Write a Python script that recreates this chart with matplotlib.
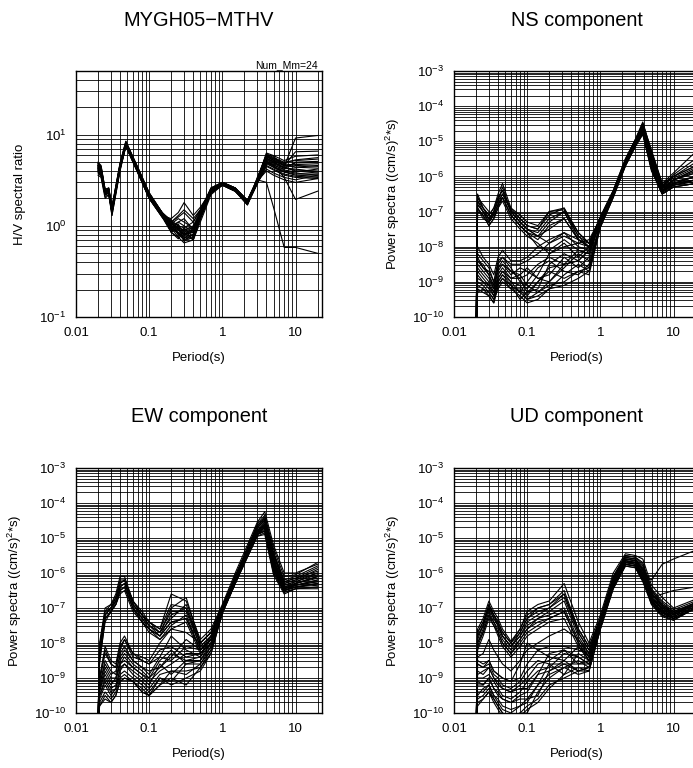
import numpy as np
import matplotlib
matplotlib.use("Agg")
import matplotlib.pyplot as plt
from matplotlib.ticker import LogLocator, NullFormatter

plt.rcParams['font.family'] = ['Liberation Sans', 'DejaVu Sans']
plt.rcParams['mathtext.fontset'] = 'custom'
plt.rcParams['mathtext.rm'] = 'Liberation Sans'
plt.rcParams['mathtext.it'] = 'Liberation Sans'
plt.rcParams['mathtext.default'] = 'rm'

STATION = "MYGH05\u2212MTHV"
NUM_MM = 24

# ---- H/V spectral ratio ----
HV_PERIOD = [0.02, 0.022, 0.025, 0.028, 0.031, 0.04, 0.048, 0.07, 0.1, 0.15, 0.2, 0.25,
             0.3, 0.4, 0.5, 0.7, 1.0, 1.5, 2.2, 3.0, 4.0, 5.0, 7.0, 10.0, 20.0]
HV_RATIO = [
    [4.8, 4.4, 2.4, 2.5, 1.4, 4.3, 8.3, 4.2, 2.2, 1.3, 0.95, 0.85, 0.75, 0.8, 1.3, 2.4, 2.9, 2.6, 1.8, 3.2, 6.2, 5.6, 5.0, 5.2, 5.4],
    [4.2, 3.8, 2.2, 2.3, 1.3, 4.0, 7.6, 3.8, 2.0, 1.25, 0.85, 0.95, 0.7, 0.8, 1.2, 2.3, 2.8, 2.5, 1.7, 3.0, 5.5, 5.0, 4.4, 4.0, 3.8],
    [3.6, 3.4, 2.0, 2.2, 1.5, 4.4, 7.9, 4.0, 2.1, 1.4, 1.1, 1.3, 1.5, 1.2, 1.5, 2.5, 2.9, 2.5, 1.8, 3.3, 5.8, 5.2, 4.6, 6.5, 6.6],
    [5.0, 4.6, 2.5, 2.6, 1.6, 4.8, 8.4, 4.4, 2.3, 1.4, 1.0, 0.9, 0.8, 0.9, 1.4, 2.6, 3.0, 2.6, 1.9, 3.1, 4.0, 3.6, 3.2, 3.0, 3.3],
    [4.0, 3.7, 2.3, 2.4, 1.4, 4.2, 7.5, 3.9, 2.0, 1.3, 1.2, 1.4, 1.8, 1.3, 1.6, 2.4, 2.8, 2.4, 1.7, 3.4, 6.0, 5.8, 4.5, 9.2, 9.8],
    [4.5, 4.1, 2.4, 2.5, 1.5, 4.5, 8.0, 4.1, 2.2, 1.3, 0.85, 0.75, 0.65, 0.7, 1.1, 2.2, 2.8, 2.5, 1.8, 3.2, 3.0, 1.6, 0.58, 0.58, 0.5],
    [4.3, 3.9, 2.3, 2.4, 1.5, 4.6, 7.7, 4.0, 2.1, 1.35, 1.05, 0.95, 0.9, 1.0, 1.45, 2.5, 2.9, 2.5, 1.8, 3.0, 5.2, 4.6, 3.4, 1.95, 2.4],
    [4.6, 4.2, 2.3, 2.5, 1.4, 4.4, 8.1, 4.3, 2.2, 1.3, 1.15, 0.8, 0.95, 0.75, 1.3, 2.4, 3.0, 2.6, 1.9, 3.3, 5.9, 5.4, 4.8, 4.6, 4.5],
    [3.8, 3.5, 2.1, 2.2, 1.3, 4.1, 7.4, 3.8, 2.0, 1.25, 0.95, 1.1, 1.2, 0.9, 1.3, 2.3, 2.8, 2.4, 1.7, 2.9, 4.8, 4.4, 3.9, 3.6, 3.5],
    [4.4, 4.0, 2.4, 2.5, 1.5, 4.7, 7.9, 4.1, 2.2, 1.35, 0.95, 1.05, 0.78, 0.95, 1.35, 2.5, 2.9, 2.5, 1.8, 3.1, 5.6, 5.0, 4.3, 4.1, 4.0],
    [4.9, 4.5, 2.5, 2.6, 1.6, 4.9, 8.5, 4.3, 2.3, 1.4, 1.1, 1.0, 0.95, 1.1, 1.5, 2.6, 3.0, 2.6, 1.9, 3.2, 6.3, 5.9, 5.2, 5.8, 6.0],
    [4.1, 3.8, 2.2, 2.3, 1.4, 4.3, 7.6, 3.9, 2.1, 1.3, 0.85, 0.72, 0.85, 0.7, 1.2, 2.3, 2.8, 2.4, 1.75, 2.9, 4.5, 4.1, 3.6, 3.4, 3.3],
    [4.7, 4.3, 2.4, 2.5, 1.5, 4.6, 8.2, 4.2, 2.2, 1.35, 1.05, 1.2, 1.1, 0.95, 1.4, 2.5, 2.9, 2.5, 1.8, 3.1, 5.4, 4.9, 4.4, 4.9, 5.0],
    [4.0, 3.6, 2.2, 2.3, 1.4, 4.3, 7.7, 4.0, 2.1, 1.3, 1.0, 0.8, 0.72, 0.9, 1.25, 2.4, 2.8, 2.5, 1.8, 3.0, 5.0, 4.5, 4.0, 3.8, 3.6],
    [4.5, 4.2, 2.4, 2.5, 1.5, 4.5, 8.0, 4.1, 2.2, 1.4, 1.15, 1.0, 0.85, 0.9, 1.4, 2.5, 2.9, 2.5, 1.8, 3.1, 5.7, 5.3, 4.7, 4.4, 4.6],
    [4.2, 3.9, 2.3, 2.4, 1.45, 4.4, 7.8, 4.0, 2.1, 1.3, 0.9, 0.85, 0.68, 0.75, 1.2, 2.4, 2.9, 2.5, 1.8, 3.0, 4.2, 3.8, 3.4, 3.2, 3.6],
    [4.6, 4.2, 2.4, 2.5, 1.5, 4.6, 8.1, 4.2, 2.2, 1.35, 1.0, 0.9, 0.82, 0.85, 1.35, 2.5, 3.0, 2.6, 1.9, 3.2, 6.0, 5.5, 4.9, 5.3, 5.6],
    [4.3, 3.9, 2.3, 2.4, 1.5, 4.5, 7.8, 4.0, 2.1, 1.35, 1.1, 1.25, 1.4, 1.1, 1.5, 2.5, 2.9, 2.5, 1.8, 3.0, 5.1, 4.7, 4.1, 3.9, 4.2],
    [3.9, 3.6, 2.2, 2.3, 1.4, 4.2, 7.6, 3.9, 2.0, 1.25, 0.95, 0.75, 0.9, 0.7, 1.25, 2.3, 2.8, 2.4, 1.75, 2.9, 4.6, 4.2, 3.7, 3.5, 3.4],
    [4.8, 4.4, 2.5, 2.6, 1.6, 4.8, 8.3, 4.3, 2.3, 1.4, 1.05, 0.95, 0.9, 0.95, 1.4, 2.6, 3.0, 2.6, 1.9, 3.2, 5.9, 5.2, 4.6, 4.7, 4.8],
    [4.4, 4.0, 2.3, 2.4, 1.5, 4.5, 7.9, 4.1, 2.2, 1.3, 0.9, 1.0, 0.68, 0.82, 1.2, 2.4, 2.9, 2.5, 1.8, 3.1, 5.3, 4.8, 4.3, 4.2, 3.9],
    [4.1, 3.7, 2.2, 2.3, 1.4, 4.3, 7.5, 3.9, 2.0, 1.3, 1.0, 1.1, 1.0, 0.85, 1.3, 2.4, 2.8, 2.4, 1.75, 3.0, 5.0, 4.6, 4.2, 5.0, 5.1],
    [4.6, 4.2, 2.4, 2.5, 1.5, 4.6, 8.2, 4.2, 2.2, 1.4, 1.1, 0.92, 0.8, 0.85, 1.35, 2.5, 2.9, 2.5, 1.85, 3.1, 5.5, 5.1, 4.6, 4.4, 4.3],
    [4.3, 3.9, 2.3, 2.4, 1.45, 4.4, 7.8, 4.0, 2.1, 1.3, 1.0, 0.82, 0.75, 0.72, 1.25, 2.4, 2.9, 2.5, 1.8, 3.0, 4.9, 4.4, 3.9, 3.7, 3.7],
]

# ---- power spectra, stored as log10 of (cm/s)^2*s ----
SPEC_PERIOD = [0.0199, 0.021, 0.025, 0.03, 0.035, 0.04, 0.046, 0.06, 0.08, 0.1, 0.14, 0.2,
               0.32, 0.5, 0.7, 1.0, 1.5, 2.2, 3.0, 3.8, 5.0, 7.0, 10.0, 20.0]

NS_LOG = [
    [-11, -6.5, -6.9, -7.1, -6.9, -6.5, -6.2, -6.9, -7.2, -7.4, -7.5, -7.1, -6.9, -7.7, -7.9, -7.15, -6.4, -5.5, -4.95, -4.45, -5.3, -6.2, -5.9, -5.3],
    [-11, -6.7, -7.0, -7.3, -7.0, -6.6, -6.4, -7.0, -7.3, -7.5, -7.7, -7.3, -7.0, -7.8, -8.0, -7.2, -6.45, -5.6, -5.0, -4.55, -5.5, -6.3, -6.0, -5.6],
    [-11, -6.6, -6.8, -7.0, -7.1, -6.8, -6.5, -6.9, -7.1, -7.3, -7.4, -7.0, -6.95, -7.6, -7.9, -7.2, -6.5, -5.6, -5.05, -4.6, -5.4, -6.3, -6.2, -6.0],
    [-11, -6.9, -7.1, -7.4, -7.2, -6.9, -6.6, -7.1, -7.4, -7.6, -8.0, -8.1, -7.8, -8.1, -8.2, -7.25, -6.5, -5.65, -5.1, -4.7, -5.6, -6.4, -6.1, -5.8],
    [-11, -6.8, -7.0, -7.2, -7.0, -6.7, -6.3, -7.0, -7.3, -7.5, -7.6, -7.2, -7.0, -7.7, -8.0, -7.2, -6.45, -5.55, -5.0, -4.5, -5.25, -6.2, -6.0, -5.7],
    [-11, -7.0, -7.1, -7.4, -7.2, -6.9, -6.7, -7.2, -7.5, -7.7, -7.9, -8.2, -8.0, -7.9, -8.0, -7.3, -6.55, -5.7, -5.15, -4.8, -5.8, -6.5, -6.3, -6.2],
    [-11, -6.6, -6.9, -7.1, -6.9, -6.6, -6.4, -6.95, -7.2, -7.4, -7.5, -7.0, -6.9, -7.6, -7.9, -7.15, -6.4, -5.5, -4.95, -4.5, -5.4, -6.35, -6.1, -5.9],
    [-11, -6.9, -7.2, -7.3, -7.1, -6.8, -6.6, -7.1, -7.4, -7.6, -7.8, -7.4, -7.2, -7.8, -8.0, -7.25, -6.5, -5.6, -5.1, -4.65, -5.5, -6.4, -6.2, -6.1],
    [-11, -6.7, -6.9, -7.2, -7.0, -6.7, -6.5, -7.0, -7.3, -7.5, -7.7, -7.5, -7.2, -7.8, -8.0, -7.2, -6.45, -5.55, -5.0, -4.6, -5.45, -6.3, -5.95, -5.5],
    [-11, -6.8, -7.0, -7.3, -7.1, -6.8, -6.6, -7.1, -7.4, -7.6, -7.7, -7.9, -7.6, -8.0, -8.1, -7.3, -6.5, -5.65, -5.1, -4.75, -5.7, -6.45, -6.2, -6.0],
    [-11, -8.2, -8.4, -8.6, -9.0, -8.5, -8.3, -8.6, -9.0, -9.2, -8.8, -8.2, -7.9, -8.3, -8.0, -7.2, -6.45, -5.55, -5.0, -4.55, -5.4, -6.3, -6.1, -5.8],
    [-11, -8.5, -8.7, -8.9, -9.2, -8.7, -8.5, -8.8, -8.6, -8.7, -8.9, -9.0, -8.5, -8.1, -8.2, -7.3, -6.5, -5.6, -5.05, -4.65, -5.6, -6.4, -6.2, -6.1],
    [-11, -8.8, -9.0, -9.1, -9.4, -8.9, -8.7, -9.0, -9.3, -9.0, -8.6, -8.4, -8.7, -8.8, -8.5, -7.4, -6.55, -5.65, -5.1, -4.7, -5.7, -6.45, -6.25, -6.1],
    [-11, -9.2, -9.3, -9.4, -9.6, -9.1, -8.9, -9.2, -9.4, -9.6, -9.5, -9.2, -8.8, -8.5, -8.7, -7.45, -6.6, -5.7, -5.15, -4.8, -5.85, -6.5, -6.3, -6.2],
    [-11, -8.4, -8.5, -8.8, -9.1, -8.6, -8.4, -8.7, -8.8, -8.6, -8.9, -8.8, -8.3, -8.6, -8.3, -7.25, -6.45, -5.6, -5.0, -4.6, -5.5, -6.35, -6.1, -5.9],
    [-11, -9.0, -9.1, -9.3, -9.5, -9.0, -8.8, -9.1, -9.5, -9.3, -9.0, -8.7, -8.9, -8.7, -8.6, -7.4, -6.55, -5.65, -5.1, -4.7, -5.75, -6.45, -6.2, -6.0],
    [-11, -8.6, -8.8, -9.0, -9.3, -8.8, -8.6, -8.9, -8.9, -9.3, -9.2, -8.5, -8.2, -8.4, -8.1, -7.3, -6.5, -5.6, -5.05, -4.6, -5.5, -6.4, -6.15, -6.0],
    [-11, -9.3, -9.2, -9.3, -9.5, -9.2, -9.0, -9.2, -9.2, -9.5, -9.3, -9.1, -9.0, -8.7, -8.8, -7.45, -6.6, -5.7, -5.15, -4.75, -5.8, -6.5, -6.3, -6.2],
    [-11, -8.3, -8.6, -8.7, -9.0, -8.4, -8.3, -8.5, -8.5, -8.4, -8.2, -7.9, -7.7, -7.9, -7.8, -7.2, -6.45, -5.55, -5.0, -4.55, -5.35, -6.25, -6.0, -5.7],
    [-11, -8.9, -9.0, -9.2, -9.4, -9.0, -8.8, -9.0, -9.1, -9.4, -9.0, -8.6, -8.5, -8.4, -8.6, -7.35, -6.5, -5.6, -5.05, -4.65, -5.6, -6.4, -6.2, -6.1],
    [-11, -8.7, -8.9, -9.1, -9.3, -8.9, -8.7, -8.9, -8.8, -9.1, -9.3, -9.0, -8.6, -8.2, -8.4, -7.35, -6.5, -5.6, -5.05, -4.7, -5.65, -6.4, -6.25, -6.15],
    [-11, -8.4, -8.6, -8.8, -9.2, -8.6, -8.5, -8.7, -8.9, -8.8, -8.5, -8.3, -8.5, -8.4, -8.1, -7.25, -6.5, -5.6, -5.0, -4.6, -5.5, -6.35, -6.1, -5.85],
    [-11, -9.1, -9.2, -9.4, -9.6, -9.1, -8.9, -9.1, -9.3, -9.5, -9.4, -9.2, -9.1, -8.9, -8.7, -7.4, -6.55, -5.65, -5.1, -4.75, -5.8, -6.5, -6.25, -6.1],
    [-11, -8.0, -8.3, -8.5, -8.8, -8.3, -8.1, -8.4, -8.4, -8.3, -8.0, -7.8, -7.6, -7.8, -7.9, -7.2, -6.45, -5.55, -5.0, -4.5, -5.3, -6.25, -6.05, -5.75],
]

EW_LOG = [
    [-10.5, -8.0, -7.0, -6.9, -6.6, -6.1, -6.1, -6.8, -7.1, -7.4, -7.6, -6.6, -6.8, -7.9, -7.6, -6.9, -6.0, -5.2, -4.55, -4.25, -5.2, -6.0, -6.0, -5.75],
    [-10.5, -8.2, -7.2, -7.0, -6.7, -6.3, -6.2, -6.9, -7.2, -7.5, -7.7, -7.0, -6.7, -8.0, -7.7, -6.95, -6.1, -5.3, -4.65, -4.4, -5.4, -6.2, -6.1, -5.8],
    [-10.5, -8.1, -7.1, -7.0, -6.8, -6.4, -6.3, -6.9, -7.3, -7.5, -7.8, -7.2, -7.0, -8.1, -7.8, -7.0, -6.15, -5.35, -4.7, -4.5, -5.5, -6.3, -6.2, -6.0],
    [-10.5, -8.4, -7.3, -7.1, -6.9, -6.5, -6.4, -7.0, -7.4, -7.6, -7.9, -7.5, -7.2, -8.2, -7.9, -7.05, -6.2, -5.4, -4.8, -4.6, -5.7, -6.4, -6.3, -6.1],
    [-10.5, -8.3, -7.2, -7.0, -6.7, -6.2, -6.2, -6.8, -7.2, -7.4, -7.7, -7.3, -6.9, -8.0, -7.7, -6.95, -6.1, -5.3, -4.6, -4.35, -5.3, -6.1, -6.05, -5.7],
    [-10.5, -8.5, -7.4, -7.1, -6.9, -6.6, -6.5, -7.1, -7.4, -7.7, -7.9, -7.6, -7.4, -8.3, -8.0, -7.1, -6.25, -5.5, -4.9, -4.8, -5.9, -6.5, -6.4, -6.3],
    [-10.5, -8.1, -7.1, -6.9, -6.7, -6.3, -6.2, -6.8, -7.2, -7.4, -7.6, -6.9, -7.0, -8.0, -7.7, -7.0, -6.1, -5.3, -4.65, -4.45, -5.45, -6.25, -6.15, -5.95],
    [-10.5, -8.6, -7.3, -7.1, -6.8, -6.5, -6.4, -7.0, -7.3, -7.6, -7.8, -7.4, -7.3, -8.2, -7.9, -7.05, -6.2, -5.45, -4.85, -4.7, -5.8, -6.45, -6.35, -6.25],
    [-10.5, -8.2, -7.2, -7.0, -6.8, -6.4, -6.3, -6.9, -7.2, -7.5, -7.7, -7.1, -7.1, -8.1, -7.8, -7.0, -6.15, -5.35, -4.7, -4.5, -5.6, -6.35, -6.25, -6.0],
    [-10.5, -8.3, -7.3, -7.1, -6.9, -6.5, -6.4, -7.0, -7.4, -7.6, -7.8, -7.4, -7.3, -8.2, -7.9, -7.05, -6.2, -5.45, -4.8, -4.65, -5.75, -6.45, -6.3, -6.15],
    [-10.5, -9.0, -8.1, -8.5, -8.6, -8.0, -7.8, -8.3, -8.4, -8.5, -8.0, -7.6, -7.7, -8.0, -7.7, -7.0, -6.1, -5.3, -4.7, -4.5, -5.5, -6.3, -6.2, -5.9],
    [-10.5, -9.2, -8.5, -8.8, -8.9, -8.3, -8.1, -8.5, -8.7, -8.8, -8.7, -8.4, -7.9, -8.2, -7.8, -7.05, -6.2, -5.4, -4.8, -4.6, -5.65, -6.4, -6.3, -6.1],
    [-10.5, -9.5, -9.0, -9.3, -9.2, -8.8, -8.6, -8.8, -9.0, -9.2, -8.6, -8.9, -8.5, -8.4, -8.0, -7.1, -6.25, -5.5, -4.9, -4.8, -5.9, -6.5, -6.4, -6.3],
    [-10.5, -9.8, -9.5, -9.7, -9.5, -9.1, -9.0, -9.1, -9.4, -9.5, -9.2, -8.8, -8.9, -8.6, -8.2, -7.15, -6.3, -5.55, -4.95, -4.85, -6.0, -6.55, -6.45, -6.4],
    [-10.5, -9.1, -8.3, -8.6, -8.7, -8.1, -7.9, -8.4, -8.5, -8.6, -8.2, -8.1, -8.4, -8.3, -7.9, -7.0, -6.15, -5.35, -4.75, -4.55, -5.6, -6.35, -6.25, -6.05],
    [-10.5, -9.6, -9.2, -9.5, -9.3, -8.9, -8.8, -9.0, -9.2, -9.4, -9.0, -9.1, -8.6, -8.5, -8.1, -7.1, -6.3, -5.5, -4.9, -4.75, -5.85, -6.5, -6.4, -6.35],
    [-10.5, -9.3, -8.7, -9.0, -9.0, -8.5, -8.3, -8.6, -8.8, -9.0, -8.5, -8.2, -8.6, -8.6, -8.1, -7.05, -6.2, -5.45, -4.85, -4.65, -5.7, -6.45, -6.35, -6.2],
    [-10.5, -9.7, -9.4, -9.6, -9.4, -9.0, -8.9, -9.1, -9.3, -9.5, -9.0, -9.2, -9.0, -8.8, -8.3, -7.15, -6.3, -5.5, -4.9, -4.8, -5.95, -6.55, -6.45, -6.45],
    [-10.5, -9.0, -8.2, -8.6, -8.7, -8.2, -7.9, -8.3, -8.5, -8.6, -8.4, -7.8, -8.2, -8.4, -7.8, -7.0, -6.1, -5.3, -4.65, -4.45, -5.45, -6.25, -6.15, -5.85],
    [-10.5, -9.4, -8.8, -9.1, -9.1, -8.6, -8.5, -8.7, -8.9, -9.1, -8.8, -8.6, -8.3, -8.3, -8.0, -7.1, -6.25, -5.45, -4.85, -4.7, -5.8, -6.5, -6.35, -6.25],
    [-10.5, -9.5, -9.1, -9.4, -9.3, -8.7, -8.6, -8.9, -9.1, -9.3, -8.9, -8.8, -8.8, -8.7, -8.2, -7.1, -6.25, -5.5, -4.9, -4.7, -5.85, -6.5, -6.4, -6.3],
    [-10.5, -9.2, -8.6, -8.9, -8.8, -8.4, -8.2, -8.5, -8.7, -8.9, -8.4, -8.5, -8.1, -8.2, -7.9, -7.05, -6.2, -5.4, -4.8, -4.6, -5.65, -6.4, -6.3, -6.1],
    [-10.5, -9.8, -9.6, -9.7, -9.5, -9.1, -9.0, -9.1, -9.4, -9.5, -9.2, -9.0, -9.2, -8.7, -8.3, -7.15, -6.3, -5.55, -4.95, -4.9, -6.05, -6.6, -6.45, -6.4],
    [-10.5, -9.3, -8.9, -9.2, -9.0, -8.6, -8.4, -8.7, -8.9, -9.0, -8.7, -8.3, -8.5, -8.5, -8.0, -7.05, -6.2, -5.45, -4.85, -4.7, -5.75, -6.45, -6.35, -6.2],
]

UD_LOG = [
    [-11, -7.6, -7.3, -6.8, -7.1, -7.3, -7.6, -7.95, -7.6, -7.1, -6.9, -6.8, -6.3, -7.4, -8.0, -7.2, -6.0, -5.45, -5.5, -5.6, -6.35, -6.7, -7.0, -6.75],
    [-11, -7.8, -7.5, -6.9, -7.2, -7.4, -7.7, -8.0, -7.7, -7.3, -7.0, -6.9, -6.5, -7.6, -8.1, -7.3, -6.1, -5.5, -5.55, -5.7, -6.45, -6.8, -7.05, -6.8],
    [-11, -7.7, -7.4, -7.0, -7.3, -7.5, -7.8, -8.1, -7.8, -7.4, -7.2, -7.0, -6.6, -7.7, -8.2, -7.3, -6.15, -5.55, -5.6, -5.8, -6.5, -6.85, -7.1, -6.85],
    [-11, -8.0, -7.6, -7.1, -7.4, -7.6, -7.9, -8.2, -7.9, -7.6, -7.3, -7.1, -6.8, -7.8, -8.3, -7.35, -6.2, -5.6, -5.65, -5.9, -6.6, -6.9, -7.15, -6.9],
    [-11, -7.9, -7.5, -7.0, -7.3, -7.5, -7.8, -8.1, -7.8, -7.5, -7.3, -7.2, -7.0, -7.9, -8.4, -7.4, -6.25, -5.65, -5.7, -6.0, -6.2, -5.75, -5.6, -5.35],
    [-11, -8.1, -7.7, -7.2, -7.5, -7.7, -8.0, -8.3, -8.0, -7.7, -7.5, -7.3, -7.1, -8.0, -8.5, -7.45, -6.3, -5.7, -5.75, -6.1, -6.7, -6.6, -6.5, -6.4],
    [-11, -7.7, -7.4, -6.9, -7.2, -7.4, -7.7, -8.0, -7.6, -7.2, -7.0, -6.9, -6.6, -7.6, -8.1, -7.3, -6.1, -5.5, -5.55, -5.75, -6.5, -6.9, -7.1, -6.85],
    [-11, -8.2, -7.8, -7.3, -7.5, -7.8, -8.1, -8.4, -8.1, -7.8, -7.6, -7.4, -7.3, -8.1, -8.5, -7.5, -6.35, -5.75, -5.8, -6.2, -6.8, -7.1, -7.25, -6.95],
    [-11, -7.8, -7.5, -7.0, -7.2, -7.5, -7.8, -8.1, -7.7, -7.3, -7.1, -7.0, -6.7, -7.7, -8.2, -7.35, -6.15, -5.55, -5.6, -5.85, -6.55, -6.95, -7.15, -6.9],
    [-11, -8.0, -7.7, -7.2, -7.4, -7.7, -8.0, -8.3, -7.9, -7.6, -7.4, -7.3, -7.1, -8.0, -8.4, -7.45, -6.3, -5.7, -5.7, -6.1, -6.75, -7.0, -7.2, -6.9],
    [-11, -8.5, -8.6, -8.5, -8.8, -8.9, -9.0, -9.1, -9.0, -8.6, -8.2, -8.4, -8.5, -8.1, -8.4, -7.35, -6.2, -5.6, -5.65, -5.9, -6.6, -6.95, -7.15, -6.85],
    [-11, -8.8, -8.9, -8.7, -9.0, -9.1, -9.3, -9.4, -9.3, -9.3, -8.9, -8.3, -8.2, -8.6, -8.6, -7.45, -6.3, -5.65, -5.7, -6.0, -6.7, -7.05, -7.25, -6.95],
    [-11, -9.2, -9.2, -9.0, -9.3, -9.5, -9.6, -9.7, -9.6, -9.6, -9.2, -8.9, -8.7, -8.5, -8.7, -7.5, -6.35, -5.7, -5.75, -6.1, -6.8, -7.1, -7.3, -7.0],
    [-11, -9.6, -9.5, -9.3, -9.6, -9.8, -10.0, -10.2, -10.0, -10.0, -9.4, -9.0, -8.7, -8.9, -8.8, -7.6, -6.4, -5.75, -5.8, -6.2, -6.85, -7.2, -7.3, -7.0],
    [-11, -8.6, -8.7, -8.6, -8.9, -9.0, -9.2, -9.3, -9.1, -8.8, -8.5, -8.6, -8.9, -8.3, -8.5, -7.4, -6.25, -5.6, -5.65, -5.95, -6.65, -7.0, -7.2, -6.9],
    [-11, -9.4, -9.4, -9.2, -9.5, -9.7, -9.9, -10.0, -9.8, -9.6, -9.5, -8.8, -8.5, -8.8, -8.7, -7.55, -6.4, -5.75, -5.8, -6.15, -6.8, -7.15, -7.3, -7.0],
    [-11, -9.0, -9.0, -8.9, -9.1, -9.3, -9.5, -9.6, -9.4, -9.1, -8.8, -8.7, -8.3, -8.4, -8.6, -7.5, -6.3, -5.7, -5.7, -6.05, -6.75, -7.1, -7.25, -6.95],
    [-11, -9.8, -9.6, -9.4, -9.7, -9.9, -10.1, -10.2, -10.1, -9.9, -9.7, -9.3, -8.9, -8.7, -8.8, -7.6, -6.45, -5.8, -5.85, -6.25, -6.9, -7.25, -7.35, -7.0],
    [-11, -8.6, -8.7, -8.5, -8.8, -8.9, -9.0, -9.1, -8.6, -8.0, -8.2, -8.1, -8.1, -8.2, -8.3, -7.35, -6.2, -5.6, -5.6, -5.9, -6.6, -6.95, -7.15, -6.85],
    [-11, -9.1, -9.2, -9.0, -9.3, -9.4, -9.6, -9.7, -9.5, -9.4, -8.9, -8.8, -8.6, -8.6, -8.5, -7.5, -6.35, -5.7, -5.75, -6.1, -6.8, -7.1, -7.3, -7.0],
    [-11, -9.5, -9.3, -9.2, -9.5, -9.6, -9.8, -9.9, -9.8, -9.7, -9.2, -8.6, -8.6, -8.8, -8.7, -7.55, -6.4, -5.75, -5.8, -6.15, -6.85, -7.15, -7.3, -7.0],
    [-11, -8.9, -8.8, -8.7, -9.0, -9.2, -9.3, -9.4, -9.2, -9.0, -8.6, -8.5, -8.2, -8.4, -8.6, -7.45, -6.3, -5.65, -5.7, -6.0, -6.7, -7.05, -7.2, -6.9],
    [-11, -9.7, -9.6, -9.4, -9.6, -9.8, -10.0, -10.1, -10.0, -9.8, -9.6, -9.2, -9.0, -8.8, -8.8, -7.6, -6.45, -5.8, -5.85, -6.2, -6.9, -7.2, -7.35, -7.0],
    [-11, -8.4, -8.3, -7.9, -8.2, -8.4, -8.6, -8.8, -8.5, -8.2, -8.0, -7.8, -7.6, -7.9, -8.3, -7.4, -6.25, -5.65, -5.7, -6.0, -6.7, -7.0, -7.2, -6.9],
]

X_TICKS = [0.01, 0.1, 1, 10]
X_TICKLABELS = ["0.01", "0.1", "1", "10"]
HV_YTICKS = [0.1, 1, 10]
SPEC_YTICKS = [1e-10, 1e-9, 1e-8, 1e-7, 1e-6, 1e-5, 1e-4, 1e-3]

FS_TICK = 9.5
W, H = 693, 768


def style_axes(ax, yticks, ylim):
    ax.set_xscale('log')
    ax.set_yscale('log')
    ax.set_xlim(0.01, 23)
    ax.set_ylim(*ylim)
    ax.set_xticks(X_TICKS)
    ax.set_xticklabels(X_TICKLABELS)
    ax.set_yticks(yticks)
    ax.set_yticklabels([r'$10^{%d}$' % round(np.log10(v)) for v in yticks])
    ax.xaxis.set_minor_locator(LogLocator(base=10, subs=range(2, 10), numticks=20))
    ax.yaxis.set_minor_locator(LogLocator(base=10, subs=range(2, 10), numticks=20))
    ax.xaxis.set_minor_formatter(NullFormatter())
    ax.yaxis.set_minor_formatter(NullFormatter())
    ax.tick_params(which='both', length=0, labelsize=FS_TICK)
    ax.tick_params(axis='x', pad=7)
    ax.tick_params(axis='y', pad=7)
    ax.grid(True, which='both', color='black', lw=0.6)
    ax.set_axisbelow(True)
    for s in ax.spines.values():
        s.set_linewidth(1.0)


def add_panel(fig, left, top, height, title):
    ax = fig.add_axes([left / W, 1 - (top + height) / H, 246 / W, height / H])
    ax.text(0.5, 1 + 51 / height, title, transform=ax.transAxes,
            ha='center', va='center', fontsize=14.4)
    ax.text(0.5, -41 / height, "Period(s)", transform=ax.transAxes,
            ha='center', va='center', fontsize=FS_TICK)
    return ax


fig = plt.figure(figsize=(W / 100, H / 100), dpi=100)

# H/V ratio
ax = add_panel(fig, 76, 71, 246, STATION)
for row in HV_RATIO:
    ax.plot(HV_PERIOD, row, color='black', lw=0.8)
style_axes(ax, HV_YTICKS, (0.1, 50))
ax.text(-0.228, 0.5, "H/V spectral ratio", transform=ax.transAxes, rotation=90,
        ha='center', va='center', fontsize=FS_TICK)
ax.text(0.984, 1 + 6 / 246, "Num_Mm=%d" % NUM_MM, transform=ax.transAxes,
        ha='right', va='center', fontsize=7.5)

# component spectra
spec_label = r'Power spectra ((cm/s)$^{2}$*s)'
panels = [(454, 71, 246, "NS component", NS_LOG),
          (76, 468, 245, "EW component", EW_LOG),
          (454, 468, 245, "UD component", UD_LOG)]
for left, top, height, title, data in panels:
    ax = add_panel(fig, left, top, height, title)
    for row in data:
        ax.plot(SPEC_PERIOD, 10.0 ** np.array(row), color='black', lw=0.8)
    style_axes(ax, SPEC_YTICKS, (1e-10, 1e-3))
    ax.text(-0.248, 0.5, spec_label, transform=ax.transAxes, rotation=90,
            ha='center', va='center', fontsize=FS_TICK)

fig.savefig("out.png", dpi=100)
